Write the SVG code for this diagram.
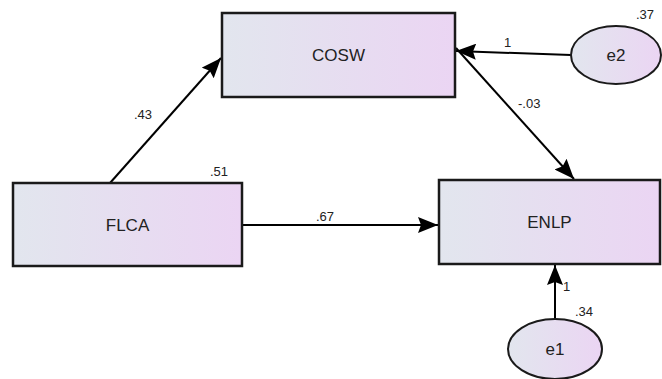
<svg xmlns="http://www.w3.org/2000/svg" width="662" height="379" viewBox="0 0 662 379">
<defs>
<linearGradient id="g" x1="0" y1="0" x2="1" y2="0">
<stop offset="0" stop-color="#e2e6ee"/>
<stop offset="1" stop-color="#ebd5f3"/>
</linearGradient>
<marker id="arrL" viewBox="0 0 20 16" refX="20" refY="8" markerWidth="20" markerHeight="16" markerUnits="userSpaceOnUse" orient="auto">
<path d="M0,0 L20,8 L0,16 L3,8 Z" fill="#000"/>
</marker>
</defs>
<style>
.box{fill:url(#g);stroke:#1a1a1a;stroke-width:2.5}
.ell{fill:url(#g);stroke:#1a1a1a;stroke-width:2}
.lbl{font-family:"Liberation Sans",Arial,sans-serif;font-size:17px;fill:#222;text-anchor:middle}
.num{font-family:"Liberation Sans",Arial,sans-serif;font-size:13px;fill:#222}
.ln{stroke:#000;stroke-width:2;fill:none}
</style>
<rect width="662" height="379" fill="#fff"/>
<g id="connectors">
<line class="ln" x1="110" y1="183" x2="221" y2="58" marker-end="url(#arrL)"/>
<line class="ln" x1="456" y1="48" x2="574" y2="179" marker-end="url(#arrL)"/>
<line class="ln" x1="242" y1="225" x2="438" y2="225" marker-end="url(#arrL)"/>
<line class="ln" x1="571" y1="55" x2="456" y2="51" marker-end="url(#arrL)"/>
<line class="ln" x1="555" y1="319" x2="555" y2="265" marker-end="url(#arrL)"/>
<text class="num" x="134" y="119">.43</text>
<text class="num" x="210" y="176">.51</text>
<text class="num" x="316" y="221">.67</text>
<text class="num" x="504" y="47">1</text>
<text class="num" x="518" y="108">-.03</text>
<text class="num" x="636" y="19">.37</text>
<text class="num" x="563" y="291">1</text>
<text class="num" x="575" y="316">.34</text>
</g>
<g id="COSW">
<rect class="box" x="222" y="13" width="233" height="84"/>
<text class="lbl" x="338.5" y="61">COSW</text>
</g>
<g id="FLCA">
<rect class="box" x="13" y="183" width="229" height="83"/>
<text class="lbl" x="127.5" y="231">FLCA</text>
</g>
<g id="ENLP">
<rect class="box" x="439" y="180" width="221" height="84"/>
<text class="lbl" x="549.5" y="228">ENLP</text>
</g>
<g id="e2">
<ellipse class="ell" cx="616" cy="55" rx="45" ry="29"/>
<text class="lbl" x="616" y="61">e2</text>
</g>
<g id="e1">
<ellipse class="ell" cx="555" cy="349" rx="47" ry="30"/>
<text class="lbl" x="555" y="355">e1</text>
</g>
</svg>
